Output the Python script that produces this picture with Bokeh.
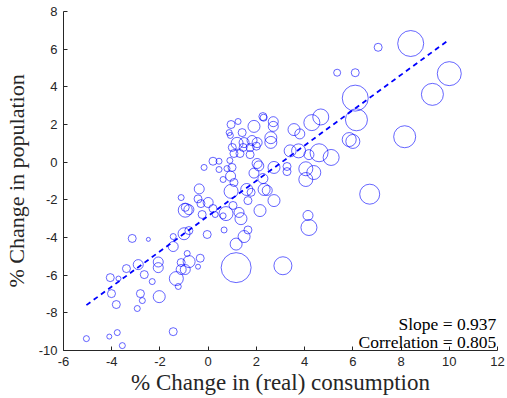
from bokeh.plotting import figure
from bokeh.models import Range1d, ColumnDataSource, Label, PrintfTickFormatter
from bokeh.embed import file_html
from bokeh.resources import INLINE

# % change in (real) consumption
cons = [8.4, 7.05, 6.1, 5.35, 10.0, 9.3, 6.1, 6.15, 5.85, 6.0, 8.15, 6.7, 5.1, 4.67, 4.3,
        3.56, 3.8, 3.4, 3.75, 4.18, 4.6, 2.73, 3.27, 3.27, 4.05, 4.38, 4.05, 2.27, 2.3, 2.7,
        2.7, 2.6, 2.6, 1.9, 1.24, 0.95, 0.87, 0.92, 1.41, 1.2, 1.49, 1.82, 2.03, 1.0, 1.45,
        1.74, 2.0, 1.07, 1.32, 1.74, 0.2, 0.45, -0.17, 0.45, 0.9, 0.99, 0.78, 2.03, 2.1, 1.9,
        0.62, 0.93, 1.07, -0.37, 0.95, 1.6, 2.32, 2.45, 2.73, 2.15, 4.14, 4.18, 3.1, -1.12,
        -0.95, -0.95, -0.8, -0.42, -0.3, 0.0, -0.25, 0.2, 0.29, 0.74, 0.62, 1.28, 1.36, 1.65,
        1.03, -1.45, -1.0, -0.8, -1.45, -0.04, 0.66, 1.65, 1.49, 1.16, 1.16, -2.07, -2.07,
        -0.87, -0.79, -1.12, -1.12, -0.95, -0.33, -0.42, -1.32, -1.24, -3.15, -2.48, -4.06,
        -3.72, -4.01, -3.81, -3.39, -2.9, -2.65, -2.81, -2.94, -2.73, -2.32, -2.03, -5.05,
        -4.1, -3.77, -3.56, -1.45, 1.78, 2.27]
# % change in population
pop = [6.3, 6.1, 4.75, 4.75, 4.7, 3.6, 3.4, 2.25, 1.2, 1.1, 1.35, -1.7, 0.25, 2.4, 2.1,
       1.73, 1.5, 0.6, 0.6, 0.4, 0.5, -0.28, -0.23, -0.5, -0.35, -0.55, -0.92, 2.42, 2.36, 2.15,
       1.9, 1.3, 1.05, 1.9, 2.16, 2.0, 1.57, 1.42, 1.57, 1.0, 1.04, 1.15, 1.04, 0.78, 0.78,
       0.78, 0.85, 0.46, 0.46, 0.4, 0.05, 0.05, -0.28, -0.39, 0.09, -0.28, -0.34, -0.07, -0.2, -0.58,
       -0.92, -0.74, -1.08, -1.42, -1.55, -1.45, -1.45, -1.5, -2.04, -2.57, -2.83, -3.47, -5.5, -1.88,
       -2.4, -2.55, -2.52, -1.95, -2.2, -2.14, -2.78, -2.46, -2.78, -2.73, -2.85, -2.67, -3.0, -2.04,
       -2.3, -3.95, -3.8, -3.63, -4.48, -3.84, -3.6, -3.6, -3.95, -4.35, -5.6, -5.3, -5.6,
       -4.85, -5.28, -5.33, -5.7, -5.7, -5.1, -5.55, -6.18, -6.6, -4.05, -4.1, -6.13,
       -6.18, -6.98, -7.56, -5.65, -5.44, -5.97, -6.98, -7.77, -7.35, -6.34, -7.14, -9.37,
       -9.26, -9.05, -9.74, -9.0, -1.6, -0.87]
# bubble weight (relative)
weight = [13, 4, 4, 3.5, 12, 11, 13, 11, 7, 7, 11, 10, 8, 8, 8,
          6, 5, 6, 7, 5, 9, 6, 4, 4, 7, 7, 7, 4, 3.5, 5,
          5, 6, 6, 6, 3, 4, 3, 3, 4, 6, 5, 5, 5, 4, 4,
          4, 4, 4, 4, 4, 4, 3, 3, 3, 3, 4, 3, 5, 5, 5,
          3, 5, 4, 5, 7, 6, 6, 5, 6, 6, 5, 8, 9, 3,
          4, 7, 5, 4, 4, 5, 4, 4, 3, 7, 3, 5, 6, 4,
          4, 3, 6, 4, 5, 4, 3, 4, 6, 6, 15, 5, 5,
          3, 6, 4, 5, 5, 4, 2.5, 7, 3, 4, 2, 4,
          2.5, 4, 4, 4, 5, 4, 4, 3, 3, 3, 6, 3,
          2.5, 3, 3, 4, 4, 5]

slope = 0.937
intercept = -2.86
correlation = 0.805

x_ticks = [-6, -4, -2, 0, 2, 4, 6, 8, 10, 12]
y_ticks = [-10, -8, -6, -4, -2, 0, 2, 4, 6, 8]

axis_color = "#262626"

p = figure(width=507, height=398, output_backend="svg", toolbar_location=None,
           x_range=Range1d(-6, 12), y_range=Range1d(-10, 8),
           min_border_left=62, min_border_right=10, min_border_top=11, min_border_bottom=48)
p.outline_line_color = None
p.xgrid.grid_line_color = None
p.ygrid.grid_line_color = None
p.background_fill_color = "white"
p.border_fill_color = "white"

src = ColumnDataSource(dict(x=cons, y=pop, s=[2 * w for w in weight]))
p.scatter(x="x", y="y", size="s", source=src, marker="circle", fill_color=None,
          line_color="#0000ff", line_alpha=0.6, line_width=1)

xmin, xmax = min(cons), max(cons)
p.line([xmin, xmax], [slope * xmin + intercept, slope * xmax + intercept],
       line_color="#0000ff", line_width=1.8, line_dash="5 4")

for ax, ticks in ((p.xaxis[0], x_ticks), (p.yaxis[0], y_ticks)):
    ax.ticker = ticks
    ax.formatter = PrintfTickFormatter(format="%d")
    ax.minor_tick_line_color = None
    ax.major_tick_in = 4
    ax.major_tick_out = 0
    ax.axis_line_color = axis_color
    ax.major_tick_line_color = axis_color
    ax.major_label_text_color = axis_color
    ax.major_label_text_font = "Liberation Sans"
    ax.major_label_text_font_size = "13px"
    ax.major_label_standoff = 6
    ax.axis_label_text_font = "Liberation Serif"
    ax.axis_label_text_font_style = "normal"
    ax.axis_label_text_color = axis_color

p.xaxis.axis_label = "% Change in (real) consumption"
p.yaxis.axis_label = "% Change in population"
p.xaxis.axis_label_standoff = 1
p.yaxis.axis_label_standoff = 7
p.xaxis.axis_label_text_font_size = "23px"
p.yaxis.axis_label_text_font_size = "22px"

for txt, yy in ((f"Slope = {slope:.3f}", -8.6), (f"Correlation = {correlation:.3f}", -9.55)):
    p.add_layout(Label(x=11.95, y=yy, text=txt, text_align="right", text_baseline="alphabetic",
                       text_font="Liberation Serif", text_font_size="17.5px", text_color="black"))

open("out.html", "w").write(file_html(p, INLINE))
